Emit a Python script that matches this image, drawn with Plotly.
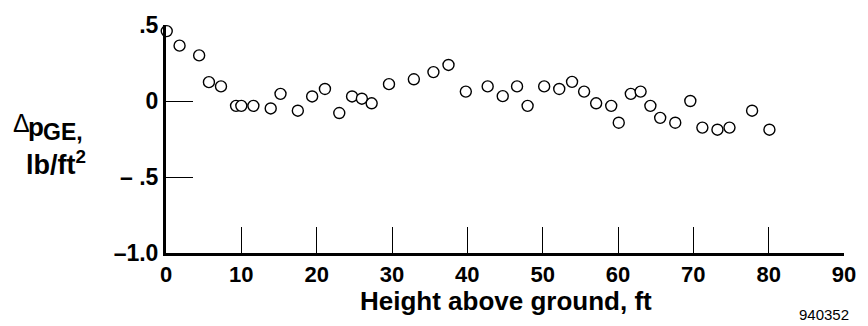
import plotly.graph_objects as go

height_ft = [0.1, 1.8, 4.4, 5.7, 7.3, 9.3, 10.0, 11.6, 13.9, 15.2, 17.5, 19.4, 21.1, 23.0,
             24.7, 26.0, 27.3, 29.6, 32.9, 35.5, 37.5, 39.8, 42.7, 44.7, 46.6, 48.0,
             50.2, 52.2, 53.9, 55.5, 57.1, 59.1, 60.1, 61.7, 63.0, 64.3, 65.6, 67.6,
             69.6, 71.2, 73.2, 74.8, 77.8, 80.1]
dp_ge = [0.46, 0.364, 0.30, 0.124, 0.096, -0.032, -0.032, -0.032, -0.049, 0.047, -0.064,
         0.030, 0.079, -0.079, 0.030, 0.015, -0.015, 0.111, 0.143, 0.190, 0.237, 0.062,
         0.096, 0.032, 0.096, -0.032, 0.096, 0.079, 0.126, 0.062, -0.015, -0.032, -0.143,
         0.047, 0.062, -0.032, -0.111, -0.143, 0.0, -0.175, -0.189, -0.175, -0.064, -0.189]

x_ticks = [0, 10, 20, 30, 40, 50, 60, 70, 80, 90]
x_ticktext = ["0", "10", "20", "30", "40", "50", "60", "70", "80", "90"]
y_ticks = [-1.0, -0.5, 0, 0.5]
y_ticktext = ["\u20131.0", "\u2013 .5", "0", ".5"]

W, H = 868, 326
L, R, T, B = 166, 20.3, 18.7, 72.7
PW, PH = W - L - R, H - T - B


def px(x):
    return (x - L) / PW


def py(y):
    return 1 - (y - T) / PH


FONT = "Liberation Sans"

fig = go.Figure()
fig.add_trace(go.Scatter(
    x=height_ft, y=dp_ge, mode="markers",
    marker=dict(symbol="circle", size=11, color="white",
                line=dict(color="black", width=1.4)),
    cliponaxis=False, showlegend=False, hoverinfo="skip",
))

fig.update_xaxes(
    range=[0, 90], tickvals=x_ticks, ticktext=x_ticktext,
    showline=True, linecolor="black", linewidth=3,
    ticks="inside", ticklen=26, tickwidth=1.2, tickcolor="black",
    showgrid=False, zeroline=False,
    tickfont=dict(family=FONT, size=22, color="black", weight="bold"),
    ticklabelstandoff=0,
)
fig.update_yaxes(
    range=[-1.0, 0.5], tickvals=y_ticks, ticktext=y_ticktext,
    showline=True, linecolor="black", linewidth=3,
    ticks="inside", ticklen=27, tickwidth=1.2, tickcolor="black",
    showgrid=False, zeroline=False,
    tickfont=dict(family=FONT, size=23, color="black", weight="bold"),
    ticklabelstandoff=0,
)

annots = [
    dict(text="\u0394", x=px(10), y=py(120), xanchor="left", yanchor="middle",
         font=dict(family=FONT, size=25, color="black")),
    dict(text="<b>p</b>", x=px(25), y=py(124), xanchor="left", yanchor="middle",
         font=dict(family=FONT, size=26, color="black")),
    dict(text="<b>GE,</b>", x=px(40), y=py(129), xanchor="left", yanchor="middle",
         font=dict(family=FONT, size=23, color="black")),
    dict(text="<b>lb/ft<sup>2</sup></b>", x=px(55), y=py(161), xanchor="center", yanchor="middle",
         font=dict(family=FONT, size=27, color="black")),
    dict(text="<b>Height above ground, ft</b>", x=px(508), y=py(303), xanchor="center",
         yanchor="middle", font=dict(family=FONT, size=26, color="black")),
    dict(text="940352", x=px(855), y=py(317), xanchor="right", yanchor="middle",
         font=dict(family=FONT, size=15, color="black")),
]
for a in annots:
    fig.add_annotation(xref="paper", yref="paper", showarrow=False, **a)

fig.update_layout(
    width=W, height=H,
    margin=dict(l=L, r=R, t=T, b=B),
    plot_bgcolor="white", paper_bgcolor="white",
)

fig.write_html("out.html", config={"displayModeBar": False},
               post_script="document.body.style.margin='0';document.body.style.overflow='hidden';")
